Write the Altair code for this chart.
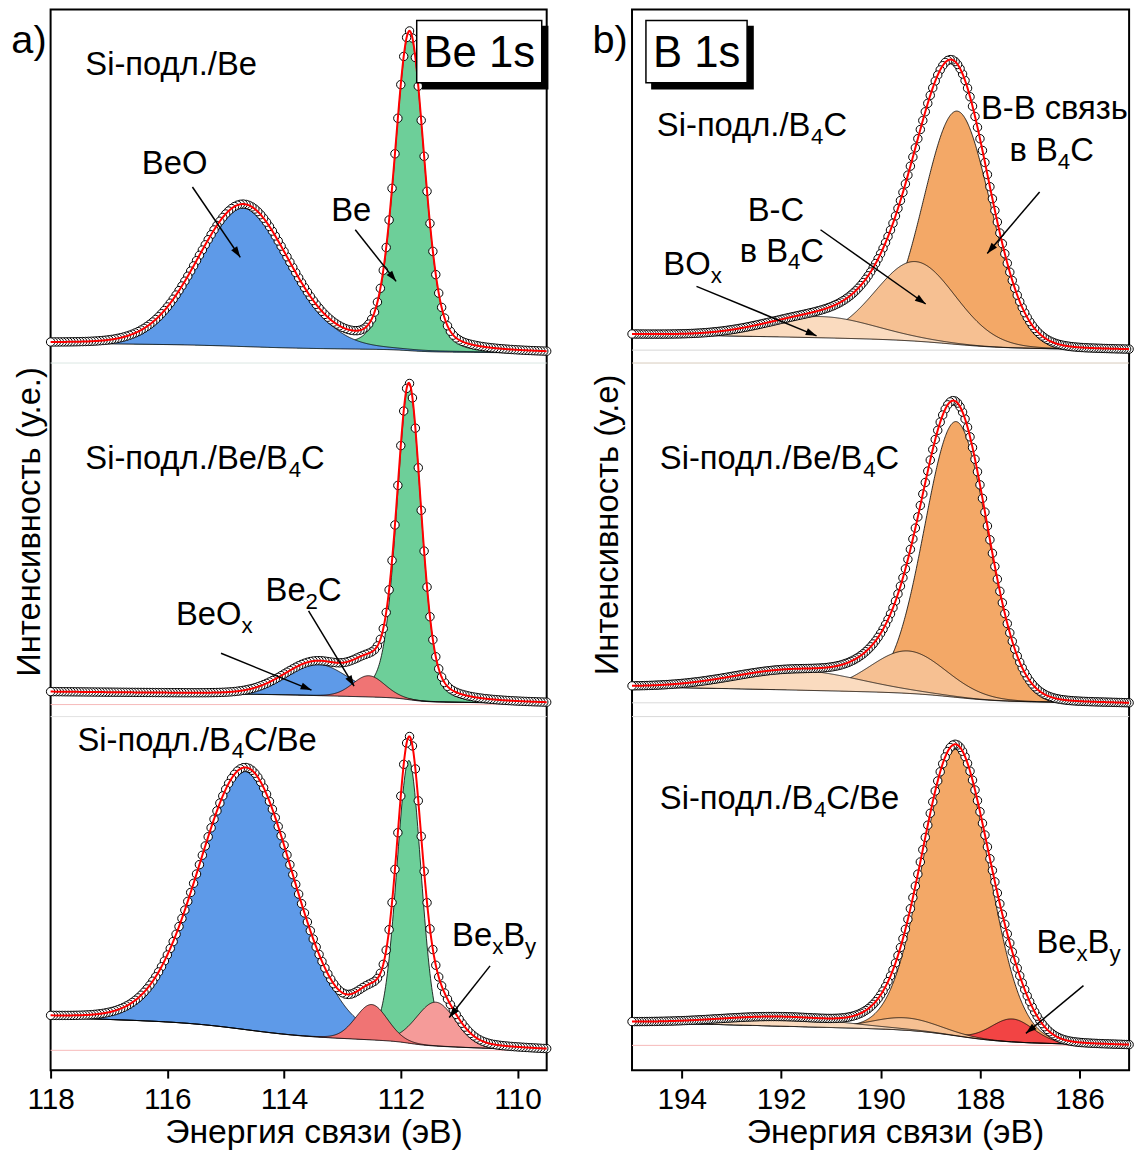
import math

import altair as alt
import numpy as np
import pandas as pd

alt.data_transformers.disable_max_rows()

FONT = "Liberation Sans"

# ------------------------------------------------------------------ Be 1s
be_energy_range = [109.5, 118.0]
be_ticks = [118, 116, 114, 112, 110]

# Si-подл./Be : component, centre (eV), height, FWHM (eV), Lorentzian share
be1_names = ["Be", "BeO"]
be1_center = [111.85, 114.70]
be1_height = [90.0, 40.0]
be1_fwhm = [0.60, 1.85]
be1_lorentz = [0.30, 0.10]
be1_background = [5.6, 2.8]  # level at the high- and at the low-energy end

# Si-подл./Be/B4C
be2_names = ["Be", "BeOx", "Be2C"]
be2_center = [111.86, 113.45, 112.55]
be2_height = [89.0, 9.0, 6.0]
be2_fwhm = [0.50, 1.30, 0.65]
be2_lorentz = [0.35, 0.10, 0.10]
be2_background = [7.0, 3.7]

# Si-подл./B4C/Be
be3_names = ["Be", "BeO", "BexBy", "Be2C"]
be3_center = [111.86, 114.65, 111.40, 112.50]
be3_height = [80.0, 74.0, 12.4, 10.0]
be3_fwhm = [0.50, 1.90, 0.80, 0.65]
be3_lorentz = [0.20, 0.10, 0.10, 0.10]
be3_background = [14.9, 5.6]

# ------------------------------------------------------------------ B 1s
b_energy_range = [185.0, 195.0]
b_ticks = [194, 192, 190, 188, 186]

# Si-подл./B4C
b1_names = ["B-B", "B-C", "BOx"]
b1_center = [188.46, 189.30, 191.20]
b1_height = [66.0, 22.5, 6.0]
b1_fwhm = [1.60, 1.90, 2.60]
b1_lorentz = [0.05, 0.05, 0.05]
b1_background = [8.1, 3.7]

# Si-подл./Be/B4C
b2_names = ["B-B", "B-C", "BOx"]
b2_center = [188.48, 189.45, 191.70]
b2_height = [78.0, 12.0, 5.6]
b2_fwhm = [1.50, 1.80, 3.00]
b2_lorentz = [0.05, 0.05, 0.05]
b2_background = [8.4, 3.7]

# Si-подл./B4C/Be
b3_names = ["B-B", "BexBy", "B-C", "BOx"]
b3_center = [188.48, 187.35, 189.50, 192.00]
b3_height = [81.0, 6.5, 3.5, 2.5]
b3_fwhm = [1.55, 1.00, 1.60, 3.00]
b3_lorentz = [0.05, 0.05, 0.05, 0.05]
b3_background = [13.5, 7.0]

# ------------------------------------------------------------------ annotations
# text (with _ marking a one-character subscript), energy, intensity, anchor, font size
be_labels = [
    ("a)", 118.37, 287.7, "center", 40),
    ("Be 1s", 110.656, 283.7, "center", 44),
    ("Si-подл./Be", 117.405, 281.5, "left", 33),
    ("BeO", 115.875, 253.4, "center", 33),
    ("Be", 112.85, 240.2, "center", 33),
    ("Si-подл./Be/B_4C", 117.405, 170.1, "left", 33),
    ("BeO_x", 115.195, 126.0, "center", 33),
    ("Be_2C", 113.665, 132.75, "center", 33),
    ("Si-подл./B_4C/Be", 117.54, 90.4, "left", 33),
    ("Be_xB_y", 110.40, 35.1, "center", 33),
]
# arrow start (energy, intensity) -> tip (energy, intensity)
be_arrows = [
    (115.57, 249.8, 114.75, 229.9),
    (112.78, 237.7, 112.08, 223.1),
    (115.08, 117.9, 113.53, 107.5),
    (113.58, 129.9, 112.80, 108.6),
    (110.47, 29.5, 111.17, 14.9),
]
be_box = [109.585, 111.727, 279.3, 296.9]

b_labels = [
    ("b)", 195.44, 287.7, "center", 40),
    ("B 1s", 193.70, 283.7, "center", 44),
    ("Si-подл./B_4C", 194.50, 264.1, "left", 33),
    ("B-B связь", 186.497, 268.9, "center", 33),
    ("в B_4C", 186.557, 257.1, "center", 33),
    ("B-C", 192.106, 240.2, "center", 33),
    ("в B_4C", 191.986, 228.7, "center", 33),
    ("BO_x", 193.782, 224.8, "center", 33),
    ("Si-подл./Be/B_4C", 194.441, 170.1, "left", 33),
    ("Si-подл./B_4C/Be", 194.441, 73.8, "left", 33),
    ("Be_xB_y", 186.018, 33.1, "center", 33),
]
b_arrows = [
    (186.80, 248.4, 187.854, 231.0),
    (191.208, 237.7, 189.092, 216.7),
    (193.703, 221.7, 191.287, 207.7),
    (185.918, 23.9, 187.076, 10.4),
]
b_box = [192.685, 194.72, 279.3, 296.9]

# ------------------------------------------------------------------ styling
be_fill = {"Be": "#6dcf99", "BeO": "#5e9ae8", "BeOx": "#5e9ae8",
           "Be2C": "#f07474", "BexBy": "#f59b99"}
b_fill = {"B-B": "#f3a867", "B-C": "#f6c092", "BOx": "#fadbbf", "BexBy": "#f24444"}

W_A, W_B, H = 500, 501, 1069
Y_MAX = 300.0
OFFSETS = [200.0, 100.0, 0.0]  # top, middle, bottom spectrum
SUB_SCALE, SUB_DROP = 0.68, 0.24
SHIRLEY_SHARE = 0.5  # background: half Shirley step, half linear slope

# Arial / Liberation Sans advance widths (1/1000 em)
GLYPH_W = {
    " ": 278, "-": 333, ".": 278, "/": 278, "(": 333, ")": 333,
    "0": 556, "1": 556, "2": 556, "4": 556,
    "B": 667, "C": 722, "O": 778, "S": 667,
    "a": 556, "e": 556, "i": 222, "s": 500, "x": 500, "y": 500,
    "в": 531, "д": 583, "з": 458, "л": 583, "о": 556, "п": 542, "с": 500,
    "ь": 520, "я": 546,
}


def text_width(s, size):
    return sum(GLYPH_W.get(ch, 556) for ch in s) * size / 1000.0


def split_subscripts(s):
    segs, buf, i = [], "", 0
    while i < len(s):
        if s[i] == "_":
            if buf:
                segs.append((buf, False))
                buf = ""
            segs.append((s[i + 1], True))
            i += 2
        else:
            buf += s[i]
            i += 1
    if buf:
        segs.append((buf, False))
    return segs


def pseudo_voigt(e, c, h, w, eta):
    t = (e - c) / w
    return h * ((1 - eta) * np.exp(-4 * math.log(2) * t ** 2) + eta / (1 + 4 * t ** 2))


def background(e, signal, high, low):
    cum = np.concatenate([[0.0], np.cumsum((signal[1:] + signal[:-1]) / 2 * np.diff(e))])
    step = cum / cum[-1]
    slope = (e - e[0]) / (e[-1] - e[0])
    frac = SHIRLEY_SHARE * step + (1 - SHIRLEY_SHARE) * slope
    return low + (high - low) * frac


def label_frame(labels, px_ev, px_unit):
    rows = []
    for text, e0, v0, anchor, size in labels:
        segs = split_subscripts(text)
        sizes = [size * SUB_SCALE if sub else size for _, sub in segs]
        widths = [text_width(t, s) for (t, _), s in zip(segs, sizes)]
        start = e0 + (sum(widths) / 2 / px_ev if anchor == "center" else 0.0)
        off = 0.0
        for (t, sub), s, w in zip(segs, sizes, widths):
            rows.append({"E": start - off / px_ev,
                         "v": v0 - (SUB_DROP * size / px_unit if sub else 0.0),
                         "text": t, "fs": s})
            off += w
    return pd.DataFrame(rows)


def arrow_frame(arrows, px_ev, px_unit):
    rows = []
    for e1, v1, e2, v2 in arrows:
        dx = -(e2 - e1) * px_ev
        dy = -(v2 - v1) * px_unit
        ang = math.degrees(math.atan2(dx, -dy)) % 360
        rows.append({"E": e1, "v": v1, "E2": e2, "v2": v2, "angle": ang})
    return pd.DataFrame(rows)


def build_panel(spectra, e_range, ticks, fills, width, guides, labels, arrows, box,
                y_title, y_title_y, y_title_pad):
    px_ev = width / (e_range[1] - e_range[0])
    px_unit = H / Y_MAX

    e = np.round(np.arange(e_range[0], e_range[1] + 1e-9, 0.01), 2)
    dots = np.isclose(np.round(e * 100) % 5, 0)

    rank_frames = {}
    bg_frames, env_frames, dot_frames = [], [], []
    for k, (spec, off) in enumerate(zip(spectra, OFFSETS)):
        names, centers, heights, fwhms, lors, bgs = spec
        comps = [pseudo_voigt(e, c, h, w, l)
                 for c, h, w, l in zip(centers, heights, fwhms, lors)]
        total = np.sum(comps, axis=0)
        bg = background(e, total, bgs[0], bgs[1])
        for r, (name, comp) in enumerate(zip(names, comps)):
            df = pd.DataFrame({"E": e, "lo": np.round(bg + off, 3),
                               "hi": np.round(bg + comp + off, 3)})
            df["key"] = f"{k}-{r}"
            df["fill"] = fills[name]
            rank_frames.setdefault(r, []).append(df)
        bg_frames.append(pd.DataFrame({"E": e, "v": np.round(bg + off, 3), "key": k}))
        env = np.round(bg + total + off, 3)
        env_frames.append(pd.DataFrame({"E": e, "v": env, "key": k}))
        dot_frames.append(pd.DataFrame({"E": e[dots], "v": env[dots]}))

    x_scale = alt.Scale(domain=e_range, reverse=True, nice=False, zero=False)
    y_scale = alt.Scale(domain=[0, Y_MAX], nice=False, zero=False)
    x_axis = alt.Axis(values=ticks, format="d", title="Энергия связи (эВ)",
                      titleFontSize=34, labelFontSize=30, tickSize=8, tickWidth=2,
                      tickColor="black", domain=False, grid=False, labelFlush=False,
                      labelOverlap=False, labelPadding=7, titlePadding=1, titleX=265)
    y_axis = alt.Axis(title=y_title, labels=False, ticks=False, domain=False, grid=False,
                      titleFontSize=33, titlePadding=y_title_pad, titleY=y_title_y)

    def X(f):
        return alt.X(f"{f}:Q", scale=x_scale, axis=x_axis)

    def Y(f):
        return alt.Y(f"{f}:Q", scale=y_scale, axis=y_axis)

    layers = []
    guide_df = pd.DataFrame(guides, columns=["v", "col"])
    layers.append(alt.Chart(guide_df).mark_rule(strokeWidth=1).encode(
        y=Y("v"), color=alt.Color("col:N", scale=None)))

    for r in sorted(rank_frames):
        df = pd.concat(rank_frames[r], ignore_index=True)
        layers.append(alt.Chart(df).mark_area(opacity=1, strokeWidth=0).encode(
            x=X("E"), y=Y("hi"), y2="lo", color=alt.Color("fill:N", scale=None),
            detail="key:N"))
        layers.append(alt.Chart(df).mark_line(color="black", strokeWidth=0.8).encode(
            x=X("E"), y=Y("hi"), detail="key:N"))

    layers.append(alt.Chart(pd.concat(bg_frames, ignore_index=True))
                  .mark_line(color="black", strokeWidth=0.9)
                  .encode(x=X("E"), y=Y("v"), detail="key:N"))
    layers.append(alt.Chart(pd.concat(dot_frames, ignore_index=True))
                  .mark_circle(size=72, fill="white", stroke="black", strokeWidth=1,
                               opacity=1)
                  .encode(x=X("E"), y=Y("v")))
    layers.append(alt.Chart(pd.concat(env_frames, ignore_index=True))
                  .mark_line(color="#ff0000", strokeWidth=2)
                  .encode(x=X("E"), y=Y("v"), detail="key:N"))

    arr = arrow_frame(arrows, px_ev, px_unit)
    layers.append(alt.Chart(arr).mark_rule(color="black", strokeWidth=1.5).encode(
        x=X("E"), y=Y("v"), x2="E2", y2="v2"))
    layers.append(alt.Chart(arr).mark_point(
        shape="M0,0L0.33,1L-0.33,1Z", filled=True, color="black", opacity=1,
        size=480, strokeWidth=0).encode(
        x=X("E2"), y=Y("v2"), angle=alt.Angle("angle:Q", scale=None)))

    # framed title box with a drop shadow
    shift_e, shift_v = 6 / px_ev, 6 / px_unit
    box_df = pd.DataFrame([
        {"E": box[0] - shift_e, "E2": box[1] - shift_e, "v": box[2] - shift_v,
         "v2": box[3] - shift_v, "f": "black"},
        {"E": box[0], "E2": box[1], "v": box[2], "v2": box[3], "f": "white"},
    ])
    layers.append(alt.Chart(box_df).mark_rect(stroke="black", strokeWidth=1.5).encode(
        x=X("E"), x2="E2", y=Y("v"), y2="v2", fill=alt.Fill("f:N", scale=None)))

    layers.append(alt.Chart(label_frame(labels, px_ev, px_unit))
                  .mark_text(align="left", baseline="alphabetic", font=FONT,
                             color="black")
                  .encode(x=X("E"), y=Y("v"), text="text:N",
                          size=alt.Size("fs:Q", scale=None)))

    return alt.layer(*layers).properties(width=width, height=H)


be_spectra = [
    (be1_names, be1_center, be1_height, be1_fwhm, be1_lorentz, be1_background),
    (be2_names, be2_center, be2_height, be2_fwhm, be2_lorentz, be2_background),
    (be3_names, be3_center, be3_height, be3_fwhm, be3_lorentz, be3_background),
]
b_spectra = [
    (b1_names, b1_center, b1_height, b1_fwhm, b1_lorentz, b1_background),
    (b2_names, b2_center, b2_height, b2_fwhm, b2_lorentz, b2_background),
    (b3_names, b3_center, b3_height, b3_fwhm, b3_lorentz, b3_background),
]

# faint separators between spectra and pale zero lines
be_guides = [(200.0, "#dbe7e3"), (100.0, "#e2e2e2"),
             (103.4, "#f6b9b9"), (5.6, "#f6b9b9")]
b_guides = [(200.0, "#d8cabb"), (100.0, "#d9d9d9"),
            (203.65, "#d6d6d6"), (103.9, "#dadada"), (7.0, "#f6b9b9")]

panel_a = build_panel(be_spectra, be_energy_range, be_ticks, be_fill, W_A, be_guides,
                      be_labels, be_arrows, be_box, "Интенсивность (у.е.)", 516, 4)
panel_b = build_panel(b_spectra, b_energy_range, b_ticks, b_fill, W_B, b_guides,
                      b_labels, b_arrows, b_box, "Интенсивность (у.е)", 519, 8)

chart = (
    alt.hconcat(panel_a, panel_b, spacing=36)
    .properties(padding={"left": 10, "top": 4, "right": 5, "bottom": 5},
                background="white")
    .configure_view(stroke="black", strokeWidth=2)
    .configure_axis(labelFont=FONT, titleFont=FONT, labelColor="black",
                    titleColor="black", titleFontWeight="normal")
)

chart.save("out.html", embed_options={"renderer": "svg", "actions": False})
